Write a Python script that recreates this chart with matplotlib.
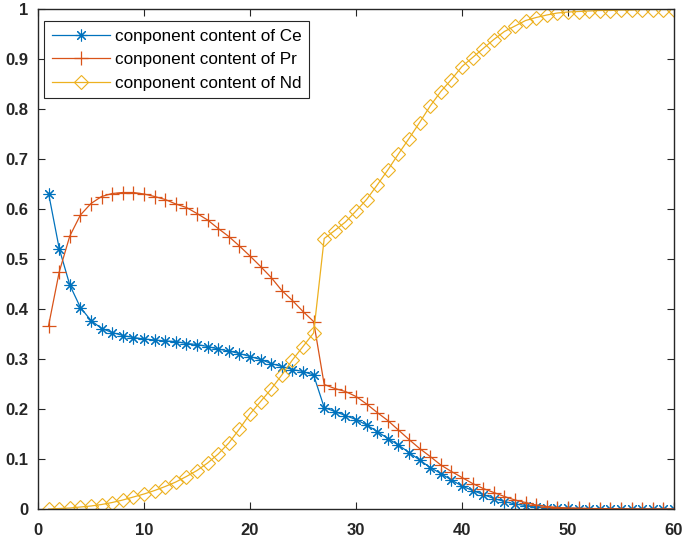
import matplotlib
matplotlib.use("Agg")
import matplotlib.pyplot as plt
import numpy as np

x = list(range(1, 61))

ce = [0.631, 0.521, 0.448, 0.403, 0.377, 0.361, 0.353, 0.347, 0.343, 0.340,
      0.338, 0.336, 0.335, 0.331, 0.329, 0.325, 0.320, 0.316, 0.311, 0.305,
      0.299, 0.291, 0.285, 0.279, 0.275, 0.268, 0.203, 0.195, 0.187, 0.179,
      0.168, 0.155, 0.141, 0.128, 0.113, 0.098, 0.083, 0.071, 0.058, 0.046,
      0.037, 0.029, 0.021, 0.015, 0.010, 0.007, 0.005, 0.003, 0.002, 0.0015,
      0.001, 0.0008, 0.0006, 0.0004, 0.0003, 0.0002, 0.0002, 0.0001, 0.0001, 0.0001]

pr = [0.367, 0.474, 0.546, 0.588, 0.611, 0.625, 0.631, 0.633, 0.633, 0.630,
      0.625, 0.619, 0.610, 0.603, 0.591, 0.578, 0.561, 0.545, 0.526, 0.506,
      0.485, 0.463, 0.437, 0.417, 0.395, 0.375, 0.249, 0.241, 0.235, 0.225,
      0.210, 0.193, 0.177, 0.158, 0.139, 0.121, 0.105, 0.088, 0.075, 0.063,
      0.051, 0.041, 0.033, 0.025, 0.018, 0.013, 0.008, 0.005, 0.003, 0.002,
      0.0015, 0.001, 0.0008, 0.0006, 0.0004, 0.0003, 0.0002, 0.0002, 0.0001, 0.0001]

nd = [0.000, 0.001, 0.002, 0.004, 0.006, 0.009, 0.013, 0.018, 0.024, 0.030,
      0.037, 0.045, 0.054, 0.065, 0.077, 0.092, 0.110, 0.132, 0.160, 0.190,
      0.215, 0.240, 0.268, 0.298, 0.325, 0.352, 0.541, 0.557, 0.574, 0.596,
      0.619, 0.648, 0.678, 0.710, 0.741, 0.773, 0.806, 0.835, 0.859, 0.885,
      0.903, 0.921, 0.939, 0.955, 0.966, 0.977, 0.983, 0.988, 0.992, 0.994,
      0.995, 0.996, 0.997, 0.997, 0.998, 0.998, 0.999, 0.999, 0.999, 0.999]

labels = ["conponent content of Ce", "conponent content of Pr", "conponent content of Nd"]
x_ticks = [0, 10, 20, 30, 40, 50, 60]
y_ticks = [0, 0.1, 0.2, 0.3, 0.4, 0.5, 0.6, 0.7, 0.8, 0.9, 1]
y_ticklabels = ["0", "0.1", "0.2", "0.3", "0.4", "0.5", "0.6", "0.7", "0.8", "0.9", "1"]

plt.rcParams['font.family'] = ['Liberation Sans', 'DejaVu Sans']

fig = plt.figure(figsize=(6.85, 5.39), dpi=100)
ax = fig.add_axes([38 / 685, 1 - 509 / 539, (674 - 38) / 685, (509 - 9) / 539])

c_ce, c_pr, c_nd = "#0072BD", "#D95319", "#EDB120"
ax.plot(x, ce, color=c_ce, lw=0.9, marker=(8, 2, 0), ms=8.5, mew=0.8, label=labels[0])
ax.plot(x, pr, color=c_pr, lw=0.9, marker='+', ms=10, mew=0.9, label=labels[1])
ax.plot(x, nd, color=c_nd, lw=0.9, marker='D', ms=7.5, mew=0.8, mfc='none', label=labels[2])

ax.set_xlim(0, 60)
ax.set_ylim(0, 1)
ax.set_xticks(x_ticks)
ax.set_xticklabels([str(t) for t in x_ticks], fontsize=12, fontweight='bold')
ax.set_yticks(y_ticks)
ax.set_yticklabels(y_ticklabels, fontsize=12, fontweight='bold')
ax.tick_params(direction='in', length=5, width=0.8, top=True, right=True,
               colors='#262626')
ax.tick_params(axis='x', pad=10)
ax.tick_params(axis='y', pad=7)
for s in ax.spines.values():
    s.set_color('#262626')
    s.set_linewidth(1.0)

leg = ax.legend(loc='upper left', bbox_to_anchor=((44 - 38) / 636, (509 - 21) / 500),
                borderaxespad=0, fontsize=12.3, handlelength=3.4, handletextpad=0.3,
                labelspacing=0.5, borderpad=0.45, fancybox=False, framealpha=1)
leg.get_frame().set_edgecolor('#262626')
leg.get_frame().set_linewidth(0.8)

fig.savefig("out.png", dpi=100)
